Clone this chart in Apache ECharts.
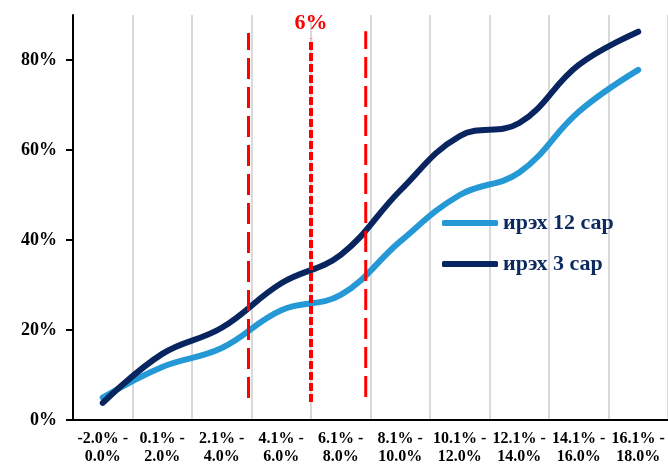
<!DOCTYPE html>
<html>
<head>
<meta charset="utf-8">
<script src="https://cdn.jsdelivr.net/npm/echarts@6/dist/echarts.min.js"></script>
<style>
  html, body { margin: 0; padding: 0; background: #fff; }
  #chart { width: 668px; height: 466px; }
</style>
</head>
<body>
<div id="chart"></div>
<script>
  // x categories (inflation ranges)
  const categories = [
    '-2.0% -\n0.0%', '0.1% -\n2.0%', '2.1% -\n4.0%', '4.1% -\n6.0%', '6.1% -\n8.0%',
    '8.1% -\n10.0%', '10.1% -\n12.0%', '12.1% -\n14.0%', '14.1% -\n16.0%', '16.1% -\n18.0%'
  ]
  const seriesNames = ['ирэх 12 сар', 'ирэх 3 сар']
  const next12 = [0.05, 0.118, 0.16, 0.244, 0.278, 0.397, 0.50, 0.55, 0.685, 0.778]
  const next3 = [0.038, 0.147, 0.205, 0.304, 0.367, 0.51, 0.631, 0.66, 0.789, 0.863]
  const yTicks = [0, 0.2, 0.4, 0.6, 0.8]

  // red reference lines, positions on a 0..10 category scale
  const markerX = [2.95, 4.0, 4.92]
  const markerTop = [0.86, 0.847, 0.864]
  const markerBottom = [0.049, 0.04, 0.051]
  const markerLabel = ['', '6%', '']

  const font = 'Liberation Serif, Times New Roman, serif'
  const chart = echarts.init(document.getElementById('chart'))

  const markerSeries = markerX.map(function(x, i) {
    return {
      type: 'line',
      xAxisIndex: 1,
      symbol: 'circle',
      symbolSize: 0,
      showSymbol: true,
      z: 5,
      silent: true,
      lineStyle: {
        color: '#ff0000',
        width: i === 1 ? 4 : 3,
        type: i === 1 ? [8, 3] : [21, 8]
      },
      data: [
        [x, markerBottom[i]],
        {
          value: [x, markerTop[i]],
          label: {
            show: markerLabel[i] !== '',
            formatter: markerLabel[i],
            position: 'top',
            distance: 5,
            color: '#ff0000',
            fontFamily: font,
            fontWeight: 'bold',
            fontSize: 22
          }
        }
      ]
    }
  })

  chart.setOption({
    animation: false,
    grid: { left: 73, right: -3, top: 15, bottom: 46 },
    legend: {
      data: seriesNames,
      orient: 'vertical',
      left: 437,
      top: 207,
      icon: 'roundRect',
      itemWidth: 56,
      itemHeight: 6,
      itemGap: 19,
      textStyle: {
        color: '#0c2a5f',
        fontFamily: font,
        fontWeight: 'bold',
        fontSize: 22
      }
    },
    xAxis: [{
      type: 'category',
      data: categories,
      boundaryGap: true,
      axisLine: { lineStyle: { color: '#000', width: 2 } },
      axisTick: { length: 5, lineStyle: { color: '#000', width: 2 } },
      splitLine: { show: true, lineStyle: { color: '#d9d9d9', width: 2 } },
      axisLabel: {
        interval: 0,
        margin: 10,
        color: '#000',
        fontFamily: font,
        fontWeight: 'bold',
        fontSize: 16,
        lineHeight: 18
      }
    }, {
      type: 'value',
      min: 0,
      max: 10,
      show: false
    }],
    yAxis: {
      type: 'value',
      min: 0,
      max: 0.9,
      interval: 0.2,
      splitLine: { show: false },
      axisLine: { show: true, lineStyle: { color: '#000', width: 2 } },
      axisTick: { show: true, length: 7, customValues: yTicks, lineStyle: { color: '#000', width: 2 } },
      axisLabel: {
        customValues: yTicks,
        margin: 16,
        color: '#000',
        fontFamily: font,
        fontWeight: 'bold',
        fontSize: 18,
        formatter: function(v) { return Math.round(v * 100) + '%' }
      }
    },
    series: [{
      name: seriesNames[0],
      type: 'line',
      data: next12,
      smooth: 0.4,
      symbol: 'none',
      z: 3,
      itemStyle: { color: '#2499d5' },
      lineStyle: { color: '#2499d5', width: 6, cap: 'round' }
    }, {
      name: seriesNames[1],
      type: 'line',
      data: next3,
      smooth: 0.4,
      symbol: 'none',
      z: 3,
      itemStyle: { color: '#082560' },
      lineStyle: { color: '#082560', width: 6, cap: 'round' }
    }].concat(markerSeries)
  })
</script>
</body>
</html>
